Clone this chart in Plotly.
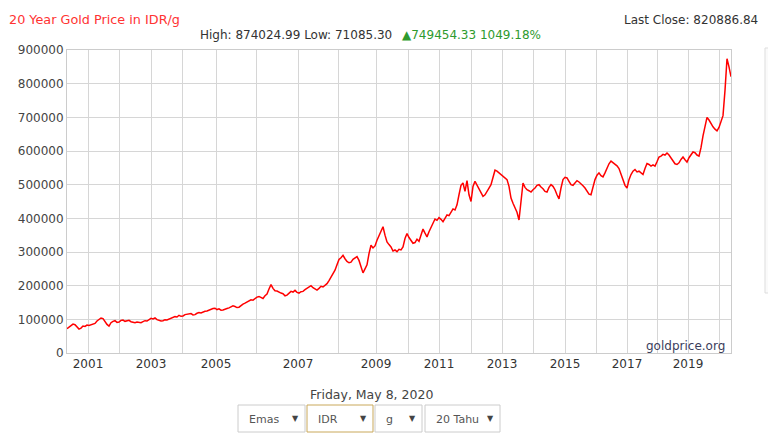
import plotly.graph_objects as go

# ---- data (one sample every ~2 px of the original chart) ----
price_idr_g = [
    72000, 76000, 80000, 86000, 84000, 77000, 71085.30, 74000, 80000, 79000,
    83000, 82000, 84000, 87000, 88000, 95000, 100000, 104000, 102000, 92000,
    85000, 80000, 90000, 94000, 96000, 91000, 92000, 97000, 98000, 94000,
    95000, 97000, 93000, 91000, 90000, 92000, 91000, 90000, 93000, 96000,
    95000, 99000, 103000, 101000, 104000, 99000, 97000, 95000, 96000, 99000,
    98000, 101000, 103000, 106000, 108000, 107000, 112000, 109000, 110000, 114000,
    115000, 118000, 117000, 113000, 114000, 118000, 120000, 119000, 122000, 124000,
    125000, 128000, 130000, 132000, 133000, 129000, 131000, 127000, 128000, 131000,
    132000, 134000, 136000, 140000, 138000, 135000, 136000, 141000, 145000, 148000,
    152000, 155000, 158000, 157000, 163000, 166000, 168000, 165000, 162000, 170000,
    175000, 190000, 203000, 192000, 185000, 184000, 180000, 178000, 176000, 170000,
    172000, 179000, 183000, 181000, 186000, 180000, 178000, 182000, 183000, 188000,
    192000, 197000, 200000, 194000, 190000, 187000, 192000, 198000, 196000, 200000,
    206000, 215000, 225000, 232000, 246000, 262000, 278000, 283000, 290000, 280000,
    272000, 268000, 270000, 278000, 282000, 286000, 275000, 255000, 238000, 250000,
    262000, 295000, 320000, 312000, 318000, 335000, 350000, 362000, 375000, 350000,
    330000, 322000, 315000, 303000, 306000, 301000, 308000, 306000, 315000, 340000,
    355000, 343000, 335000, 326000, 328000, 338000, 332000, 350000, 368000, 356000,
    345000, 360000, 372000, 385000, 398000, 394000, 402000, 397000, 390000, 400000,
    410000, 408000, 418000, 428000, 425000, 440000, 470000, 498000, 505000, 480000,
    512000, 470000, 450000, 495000, 510000, 498000, 488000, 476000, 465000, 470000,
    482000, 490000, 500000, 520000, 543000, 540000, 535000, 530000, 525000, 520000,
    515000, 495000, 460000, 445000, 432000, 418000, 395000, 450000, 505000, 492000,
    485000, 482000, 478000, 485000, 490000, 498000, 500000, 493000, 488000, 480000,
    478000, 492000, 500000, 495000, 485000, 470000, 458000, 490000, 515000, 522000,
    520000, 510000, 500000, 498000, 505000, 512000, 508000, 503000, 497000, 490000,
    480000, 472000, 470000, 495000, 515000, 528000, 535000, 527000, 523000, 535000,
    550000, 562000, 570000, 566000, 562000, 556000, 548000, 530000, 510000, 498000,
    490000, 515000, 530000, 540000, 545000, 538000, 540000, 536000, 530000, 548000,
    563000, 560000, 555000, 559000, 555000, 568000, 582000, 585000, 590000, 588000,
    594000, 588000, 580000, 570000, 562000, 560000, 565000, 575000, 582000, 574000,
    567000, 580000, 590000, 597000, 595000, 588000, 585000, 610000, 645000, 672000,
    700000, 692000, 680000, 672000, 665000, 660000, 670000, 686000, 705000, 780000,
    874024.99, 850000, 820886.84,
]
# sample index at which each year starts on the chart's (irregular) time axis
year_labels = [str(y) for y in range(2001, 2021)]
year_start_index = [10.5, 26, 42, 57.5, 74.5, 94.5, 115.5, 135.5, 154.5, 170.5,
                    186, 202, 217.5, 233, 249, 264.5, 280, 295, 310.5, 326]
y_ticks = [0, 100000, 200000, 300000, 400000, 500000, 600000, 700000, 800000, 900000]

title_text = "20 Year Gold Price in IDR/g"
high_low_text = "High: 874024.99 Low: 71085.30"
change_text = "▲749454.33 1049.18%"
last_close_text = "Last Close: 820886.84"
date_text = "Friday, May 8, 2020"
dropdowns = ["Emas", "IDR", "g", "20 Tahu"]

# ---- geometry helpers ----
W, H = 768, 439
L, R, T, B = 67, 731, 50, 353


def px(x):
    return (x - L) / (R - L)


def py(y):
    return (B - y) / (B - T)


FONT = "DejaVu Sans, Verdana, sans-serif"

fig = go.Figure()
fig.add_trace(go.Scatter(
    x=list(range(len(price_idr_g))), y=price_idr_g, mode="lines",
    line=dict(color="#ff0000", width=1.5), hoverinfo="y", showlegend=False,
))

ticktext = [lab if int(lab) % 2 == 1 else "" for lab in year_labels]

fig.update_layout(
    width=W, height=H,
    margin=dict(l=L, r=W - R, t=T, b=H - B, pad=0),
    paper_bgcolor="white", plot_bgcolor="white",
    font=dict(family=FONT, size=12, color="#444"),
    xaxis=dict(range=[0, len(price_idr_g) - 1], tickmode="array",
               tickvals=year_start_index, ticktext=ticktext,
               showgrid=True, gridcolor="#d6d6d6", gridwidth=1,
               showline=True, linecolor="#cccccc", mirror=True,
               ticks="", zeroline=False, fixedrange=True, automargin=False,
               tickfont=dict(size=12, color="#333")),
    yaxis=dict(range=[0, 900000], tickmode="array", tickvals=y_ticks,
               ticktext=[str(v) for v in y_ticks],
               showgrid=True, gridcolor="#d6d6d6", gridwidth=1,
               showline=True, linecolor="#cccccc", mirror=True,
               ticks="", zeroline=False, fixedrange=True, automargin=False,
               tickfont=dict(size=12, color="#444")),
)

ann = []
ann.append(dict(text=title_text, x=px(7), y=py(20), xanchor="left", yanchor="middle",
                font=dict(size=12.8, color="#ff3333", family=FONT)))
ann.append(dict(text=high_low_text, x=px(198), y=py(35), xanchor="left", yanchor="middle",
                font=dict(size=12, color="#333", family=FONT)))
ann.append(dict(text=change_text, x=px(400), y=py(35), xanchor="left", yanchor="middle",
                font=dict(size=12, color="#2e9a2e", family=FONT)))
ann.append(dict(text=last_close_text, x=px(760), y=py(20), xanchor="right", yanchor="middle",
                font=dict(size=12, color="#333", family=FONT)))
ann.append(dict(text="goldprice.org", x=px(727), y=py(346), xanchor="right", yanchor="middle",
                font=dict(size=12, color="#3b3d5c", family=FONT)))
ann.append(dict(text=date_text, x=px(371), y=py(394), xanchor="center", yanchor="middle",
                font=dict(size=12.5, color="#444", family=FONT)))

shapes = []
boxes = [(238, 305), (307, 373), (375, 422), (425, 500)]
for (x0, x1), lab in zip(boxes, dropdowns):
    border = "#c9a85a" if lab == "IDR" else "#cccccc"
    shapes.append(dict(type="rect", xref="paper", yref="paper",
                       x0=px(x0), x1=px(x1), y0=py(432), y1=py(405),
                       line=dict(color=border, width=1), fillcolor="white", layer="above"))
    ann.append(dict(text=lab, x=px(x0 + 9), y=py(419), xanchor="left", yanchor="middle",
                    font=dict(size=11, color="#555", family=FONT)))
    ann.append(dict(text="▼", x=px(x1 - 10), y=py(418), xanchor="center", yanchor="middle",
                    font=dict(size=8, color="#444", family=FONT)))

# faint side panel at right edge
shapes.append(dict(type="rect", xref="paper", yref="paper",
                   x0=px(765), x1=px(772), y0=py(293), y1=py(48),
                   line=dict(color="#dddddd", width=1), fillcolor="#fafafa", layer="below"))

for a in ann:
    a.update(xref="paper", yref="paper", showarrow=False)
fig.update_layout(annotations=ann, shapes=shapes)

fig.write_html("out.html", config={"displayModeBar": False})

# remove the browser's default 8px page margin so the figure sits at (0, 0)
with open("out.html", "r", encoding="utf-8") as f:
    html = f.read()
html = html.replace("<body>", '<body style="margin:0;padding:0;overflow:hidden">', 1)
with open("out.html", "w", encoding="utf-8") as f:
    f.write(html)
